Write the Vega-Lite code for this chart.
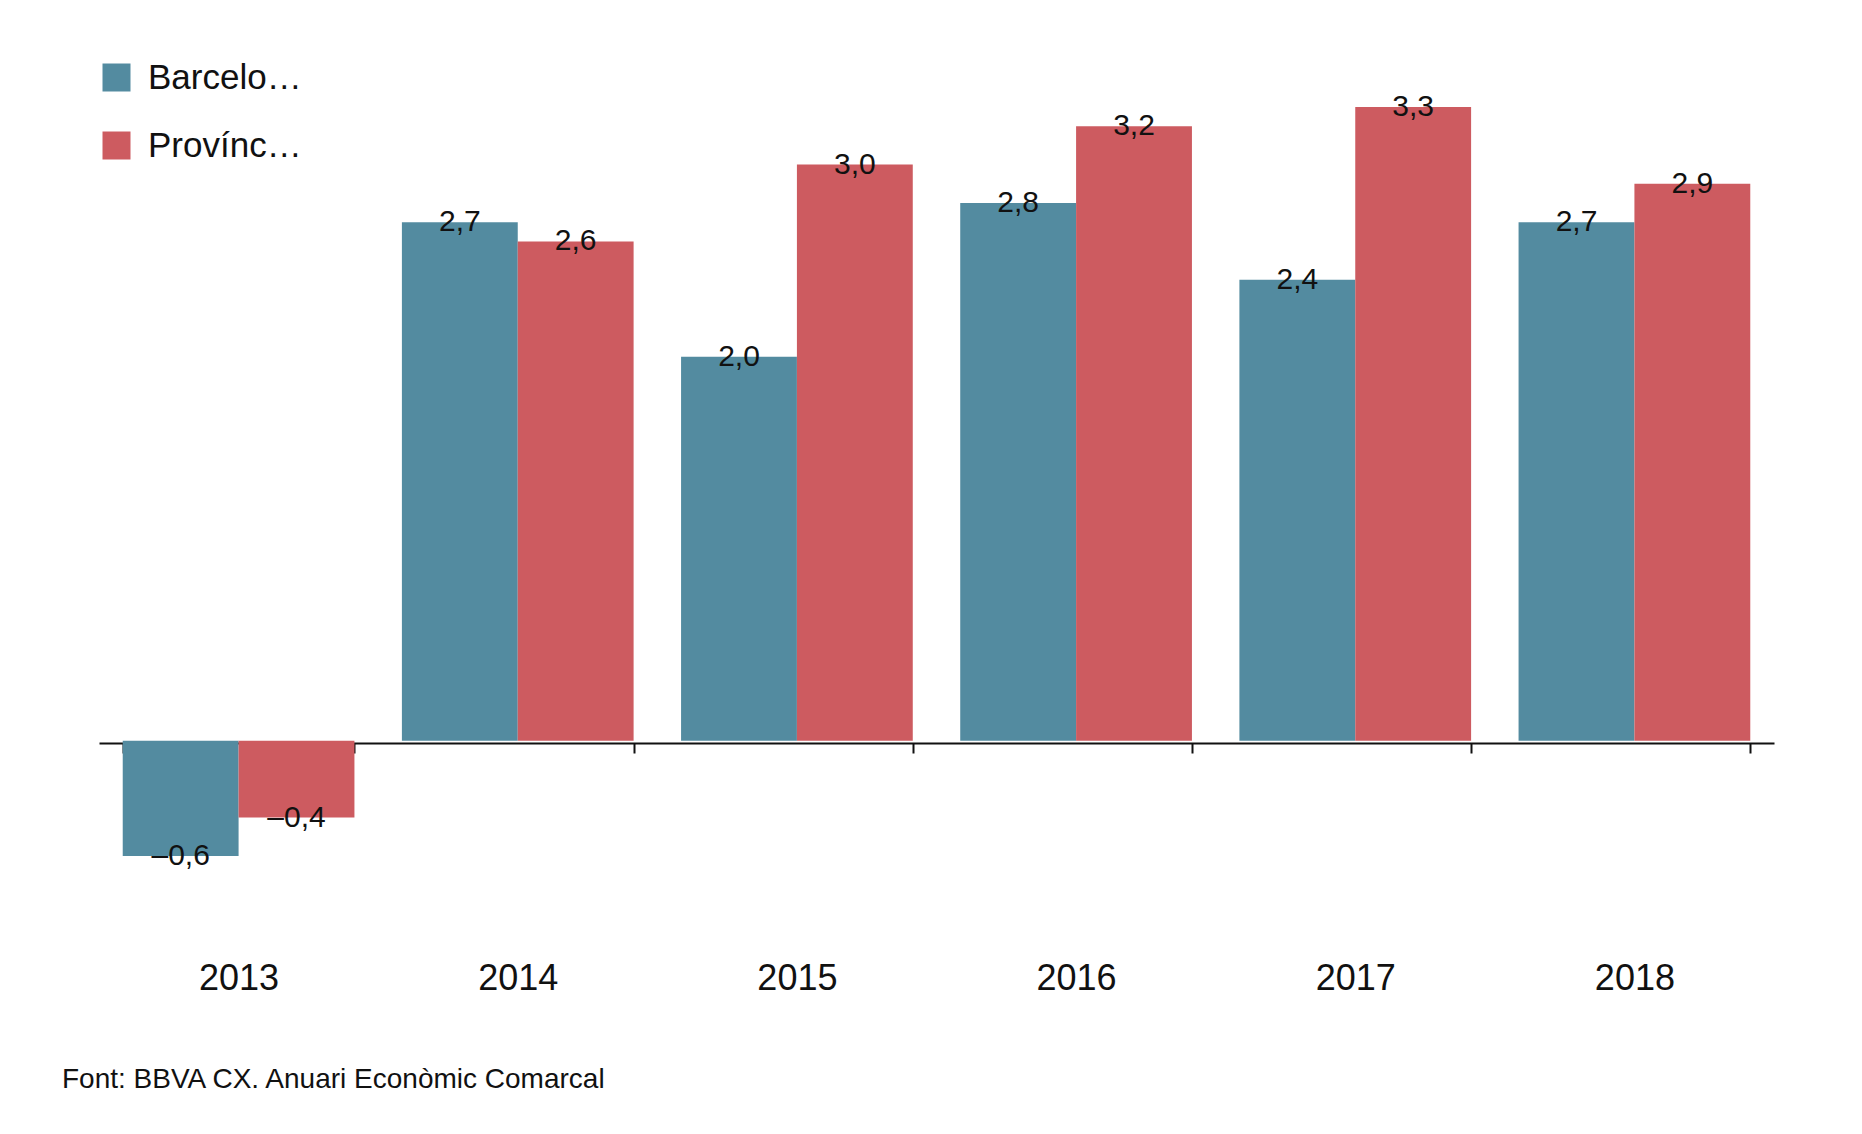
{
  "$schema": "https://vega.github.io/schema/vega-lite/v6.json",
  "width": 1675,
  "height": 749,
  "autosize": "none",
  "padding": {"left": 99, "top": 107, "right": 88, "bottom": 278},
  "background": "white",
  "config": {"font": "Liberation Sans", "view": {"stroke": null}},
  "title": {
    "text": "Font: BBVA CX. Anuari Econòmic Comarcal",
    "orient": "bottom", "anchor": "start", "frame": "group",
    "fontSize": 28, "fontWeight": "normal", "color": "#111", "offset": 70, "dx": -37
  },
  "data": {"values": [
    {"any": "2013", "serie": "Barcelonès", "valor": -0.6, "etiqueta": "–0,6"},
    {"any": "2013", "serie": "Província de Barcelona", "valor": -0.4, "etiqueta": "–0,4"},
    {"any": "2014", "serie": "Barcelonès", "valor": 2.7, "etiqueta": "2,7"},
    {"any": "2014", "serie": "Província de Barcelona", "valor": 2.6, "etiqueta": "2,6"},
    {"any": "2015", "serie": "Barcelonès", "valor": 2.0, "etiqueta": "2,0"},
    {"any": "2015", "serie": "Província de Barcelona", "valor": 3.0, "etiqueta": "3,0"},
    {"any": "2016", "serie": "Barcelonès", "valor": 2.8, "etiqueta": "2,8"},
    {"any": "2016", "serie": "Província de Barcelona", "valor": 3.2, "etiqueta": "3,2"},
    {"any": "2017", "serie": "Barcelonès", "valor": 2.4, "etiqueta": "2,4"},
    {"any": "2017", "serie": "Província de Barcelona", "valor": 3.3, "etiqueta": "3,3"},
    {"any": "2018", "serie": "Barcelonès", "valor": 2.7, "etiqueta": "2,7"},
    {"any": "2018", "serie": "Província de Barcelona", "valor": 2.9, "etiqueta": "2,9"}
  ]},
  "encoding": {
    "x": {"field": "any", "type": "nominal",
      "scale": {"paddingInner": 0.17, "paddingOuter": 0.085},
      "axis": {"title": null, "orient": "bottom", "offset": -113, "labelPadding": 208,
        "labelFontSize": 36, "labelColor": "#111", "labelAngle": 0,
        "domainColor": "#111", "domainWidth": 2, "tickColor": "#111", "tickWidth": 2,
        "tickSize": 10, "tickBand": "extent"}},
    "xOffset": {"field": "serie", "type": "nominal"},
    "y": {"field": "valor", "type": "quantitative",
      "scale": {"domain": [-0.6, 3.3], "nice": false, "zero": false}, "axis": null}
  },
  "layer": [
    {
      "mark": {"type": "bar"},
      "encoding": {
        "color": {"field": "serie", "type": "nominal",
          "scale": {"domain": ["Barcelonès", "Província de Barcelona"], "range": ["#538ba0", "#cd5b60"]},
          "legend": {"title": null, "orient": "none", "legendX": 0, "legendY": -47,
            "symbolType": "square", "symbolSize": 784, "symbolStrokeWidth": 0,
            "labelFontSize": 35, "labelColor": "#111", "rowPadding": 32, "labelOffset": 14}}
      }
    },
    {
      "mark": {"type": "text", "fontSize": 30, "color": "#111"},
      "encoding": {
        "text": {"field": "etiqueta"},
        "baseline": {"condition": {"test": "datum.valor < 0", "value": "top"}, "value": "alphabetic"},
        "dy": {"condition": {"test": "datum.valor < 0", "value": 14}, "value": -12}
      }
    }
  ]
}
